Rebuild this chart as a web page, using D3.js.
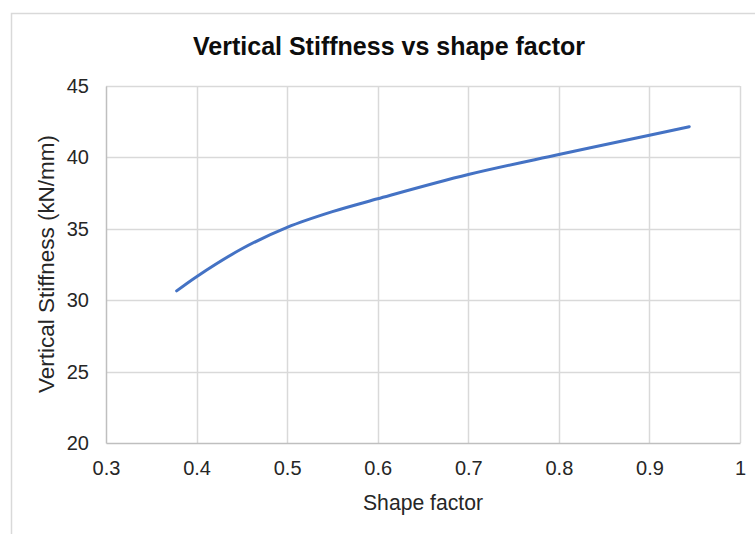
<!DOCTYPE html>
<html>
<head>
<meta charset="utf-8">
<script src="https://cdn.jsdelivr.net/npm/d3@7"></script>
<style>
  html, body { margin: 0; padding: 0; background: #fff; }
  svg { display: block; font-family: "Liberation Sans", Arial, sans-serif; }
</style>
</head>
<body>
<svg id="chart" width="755" height="534"></svg>
<script>
// Shape factor (x) and measured vertical stiffness in kN/mm (y)
const shapeFactor = [0.378, 0.4, 0.45, 0.5, 0.55, 0.6, 0.7, 0.8, 0.9, 0.944];
const stiffness   = [30.65, 31.65, 33.6, 35.1, 36.2, 37.1, 38.8, 40.2, 41.55, 42.15];

const xTicks = [0.3, 0.4, 0.5, 0.6, 0.7, 0.8, 0.9, 1];
const yTicks = [20, 25, 30, 35, 40, 45];

const titleText = "Vertical Stiffness vs shape factor";
const xLabel = "Shape factor";
const yLabel = "Vertical Stiffness (kN/mm)";

const svg = d3.select("#chart");
const W = 755, H = 534;
const plot = { left: 106, right: 740, top: 86, bottom: 443 };

// chart frame
svg.append("rect")
  .attr("x", 11.5).attr("y", 13.5)
  .attr("width", W + 10).attr("height", H + 10)
  .attr("fill", "#fff").attr("stroke", "#d9d9d9").attr("stroke-width", 1.5);

const x = d3.scaleLinear().domain([0.3, 1]).range([plot.left, plot.right]);
const y = d3.scaleLinear().domain([20, 45]).range([plot.bottom, plot.top]);

// gridlines
const grid = svg.append("g");
grid.selectAll(".vg").data(xTicks.slice(1)).enter().append("line")
  .attr("x1", d => Math.round(x(d)) + 0.5).attr("x2", d => Math.round(x(d)) + 0.5)
  .attr("y1", plot.top).attr("y2", plot.bottom)
  .attr("stroke", "#d9d9d9").attr("stroke-width", 1.5);
grid.selectAll(".hg").data(yTicks.slice(1)).enter().append("line")
  .attr("x1", plot.left).attr("x2", plot.right)
  .attr("y1", d => Math.round(y(d)) + 0.5).attr("y2", d => Math.round(y(d)) + 0.5)
  .attr("stroke", "#d9d9d9").attr("stroke-width", 1.5);

// axes
const xAxis = d3.axisBottom(x).tickValues(xTicks).tickSize(0).tickPadding(18)
  .tickFormat(d => d3.format("~g")(d));
const gx = svg.append("g").attr("transform", `translate(0,${plot.bottom})`).call(xAxis);
gx.select(".domain").attr("stroke", "#bfbfbf").attr("stroke-width", 1.5);
gx.selectAll("text").attr("font-size", 20).attr("fill", "#262626");

const yAxis = d3.axisLeft(y).tickValues(yTicks).tickSize(0).tickPadding(17);
const gy = svg.append("g").attr("transform", `translate(${plot.left},0)`).call(yAxis);
gy.select(".domain").attr("stroke", "#bfbfbf").attr("stroke-width", 1.5);
gy.selectAll("text").attr("font-size", 20).attr("fill", "#262626");

// data line
const line = d3.line()
  .x((d, i) => x(shapeFactor[i]))
  .y(d => y(d))
  .curve(d3.curveCatmullRom.alpha(0.5));
svg.append("path")
  .datum(stiffness)
  .attr("d", line)
  .attr("fill", "none")
  .attr("stroke", "#4472c4")
  .attr("stroke-width", 3)
  .attr("stroke-linecap", "round");

// titles
svg.append("text")
  .attr("x", 389).attr("y", 55)
  .attr("text-anchor", "middle")
  .attr("font-size", 26).attr("font-weight", "bold").attr("fill", "#0d0d0d")
  .attr("textLength", 392).attr("lengthAdjust", "spacingAndGlyphs")
  .text(titleText);

svg.append("text")
  .attr("x", 423).attr("y", 510)
  .attr("text-anchor", "middle")
  .attr("font-size", 22).attr("fill", "#262626")
  .attr("textLength", 120).attr("lengthAdjust", "spacingAndGlyphs")
  .text(xLabel);

svg.append("text")
  .attr("transform", `translate(54,264) rotate(-90)`)
  .attr("text-anchor", "middle")
  .attr("font-size", 22).attr("fill", "#262626")
  .attr("textLength", 258).attr("lengthAdjust", "spacingAndGlyphs")
  .text(yLabel);
</script>
</body>
</html>
